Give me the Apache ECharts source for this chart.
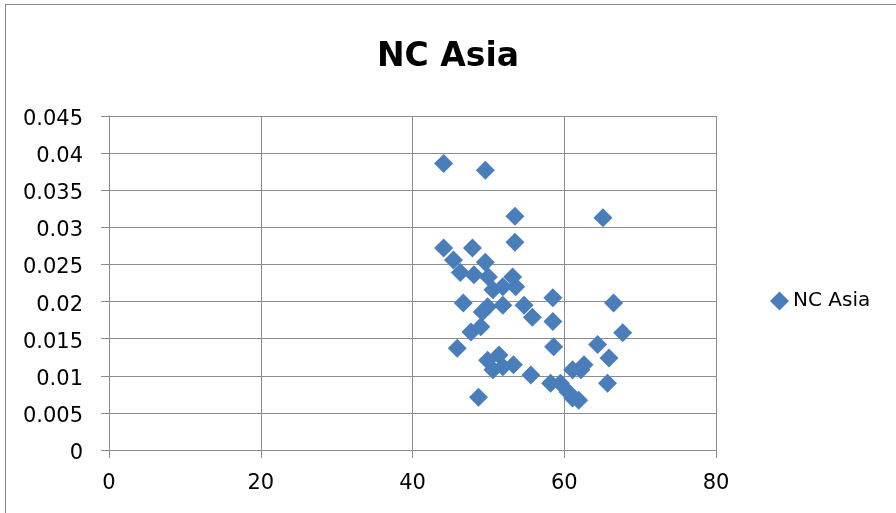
<!DOCTYPE html>
<html>
<head>
    <title>NC Asia</title>
    <meta charset="utf-8">
    <script src="https://cdn.jsdelivr.net/npm/echarts@6/dist/echarts.min.js"></script>
    <style>
        body { margin: 0; background: #fff; }
        #frame { position: absolute; left: 5px; top: 4px; width: 900px; height: 520px; border: 1px solid #888; }
        #main { position: absolute; left: 0; top: 0; width: 896px; height: 513px; }
    </style>
</head>
<body>
    <div id="frame"></div>
    <div id="main"></div>

    <script type="text/javascript">
        // values
        var seriesName = 'NC Asia';
        var xValues = [44.1, 49.6, 53.5, 65.1, 53.5, 44.1, 47.9, 45.4, 49.6, 46.3,
                       48.1, 50.0, 53.2, 50.6, 51.9, 53.6, 46.7, 49.9, 51.9, 54.7,
                       49.2, 55.8, 58.5, 66.5, 58.5, 47.7, 49.0, 67.7, 64.4, 58.6,
                       45.9, 65.9, 49.9, 51.4, 50.6, 51.9, 53.3, 55.6, 61.1, 62.6,
                       62.2, 65.7, 58.2, 59.5, 60.5, 61.1, 61.9, 48.7];
        var yValues = [0.0386, 0.0377, 0.0315, 0.0313, 0.0280, 0.0272, 0.0272, 0.0256, 0.0253, 0.0239,
                       0.0236, 0.0233, 0.0233, 0.0216, 0.0220, 0.0220, 0.0198, 0.0193, 0.0195, 0.0195,
                       0.0186, 0.0179, 0.0205, 0.0198, 0.0173, 0.0159, 0.0166, 0.0158, 0.0142, 0.0139,
                       0.0137, 0.0124, 0.0121, 0.0128, 0.0108, 0.0112, 0.0115, 0.0101, 0.0108, 0.0115,
                       0.0108, 0.0090, 0.0090, 0.0090, 0.0078, 0.0070, 0.0067, 0.0071];

        var points = [];
        for (var i = 0; i < xValues.length; i++) {
            points.push([xValues[i], yValues[i]]);
        }

        var myChart = echarts.init(document.getElementById('main'));
        var gray = '#8c8c8c';
        var font = '"DejaVu Sans", sans-serif';

        var option = {
            animation: false,
            textStyle: { fontFamily: font },
            title: {
                text: seriesName,
                left: 'center',
                top: 36,
                textStyle: { fontSize: 33, fontWeight: 'bold', color: '#000', fontFamily: font }
            },
            legend: {
                data: [seriesName],
                orient: 'vertical',
                left: 770,
                top: 291,
                padding: 0,
                icon: 'diamond',
                itemWidth: 19,
                itemHeight: 19,
                itemGap: 0,
                textStyle: { fontSize: 20, color: '#000', fontFamily: font, padding: [0, 0, 0, -1] }
            },
            grid: { left: 109, top: 116, width: 607, height: 334, containLabel: false },
            xAxis: {
                type: 'value',
                min: 0, max: 80, interval: 20,
                axisLine: { show: true, lineStyle: { color: gray, width: 1 } },
                axisTick: { show: true, inside: false, length: 8, lineStyle: { color: gray } },
                axisLabel: { color: '#000', fontSize: 21, margin: 23, fontFamily: font },
                splitLine: { show: true, lineStyle: { color: gray, width: 1 } }
            },
            yAxis: {
                type: 'value',
                min: 0, max: 0.045, interval: 0.005,
                axisLine: { show: true, lineStyle: { color: gray, width: 1 } },
                axisTick: { show: true, inside: false, length: 8, lineStyle: { color: gray } },
                axisLabel: {
                    margin: 26,
                    // nudge the labels a few pixels down so they sit on the grid lines
                    formatter: function (v) { return '{a|' + v + '}'; },
                    rich: { a: { color: '#000', fontSize: 21, fontFamily: font, padding: [7, 0, 0, 0] } }
                },
                splitLine: { show: true, lineStyle: { color: gray, width: 1 } }
            },
            series: [{
                name: seriesName,
                type: 'scatter',
                symbol: 'diamond',
                symbolSize: 19,
                itemStyle: { color: '#4a7ebb', opacity: 1 },
                data: points
            }]
        };

        myChart.setOption(option);
    </script>
</body>
</html>
